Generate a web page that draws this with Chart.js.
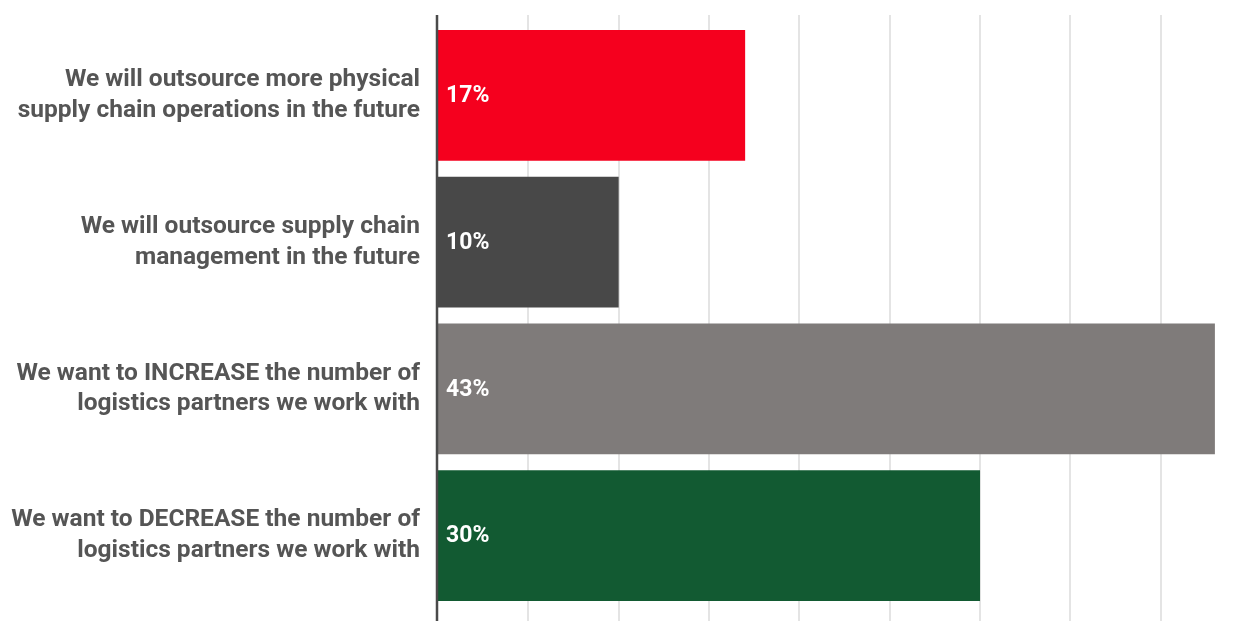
<!DOCTYPE html>
<html>
<head>
<meta charset="utf-8">
<script src="https://cdn.jsdelivr.net/npm/chart.js@4/dist/chart.umd.min.js"></script>
<style>
  html, body { margin: 0; padding: 0; background: #fff; }
  #wrap { width: 1242px; height: 621px; }
</style>
</head>
<body>
<div id="wrap"><canvas id="chart" width="1242" height="621"></canvas></div>
<script>
const categories = [
  ['We will outsource more physical', 'supply chain operations in the future'],
  ['We will outsource supply chain', 'management in the future'],
  ['We want to INCREASE the number of', 'logistics partners we work with'],
  ['We want to DECREASE the number of', 'logistics partners we work with']
];
const values = [17, 10, 43, 30];
const barColors = ['#f5001e', '#484848', '#7f7b7a', '#125a32'];
const xMax = 44.5;
const xStep = 5;

// gridlines + axis line spanning full height, drawn from the x scale
const gridPlugin = {
  id: 'fullGrid',
  beforeDatasetsDraw(chart) {
    const ctx = chart.ctx, xs = chart.scales.x;
    ctx.save();
    ctx.strokeStyle = '#e4e4e4';
    ctx.lineWidth = 2;
    xs.ticks.forEach(t => {
      if (t.value === 0 || t.value % xStep !== 0) return;
      const x = Math.round(xs.getPixelForValue(t.value));
      ctx.beginPath();
      ctx.moveTo(x, 15);
      ctx.lineTo(x, 621);
      ctx.stroke();
    });
    ctx.restore();
  },
  afterDatasetsDraw(chart) {
    const ctx = chart.ctx, xs = chart.scales.x;
    const meta = chart.getDatasetMeta(0);
    ctx.save();
    // value labels
    ctx.fillStyle = '#ffffff';
    ctx.font = 'bold 23px Roboto';
    ctx.textAlign = 'left';
    ctx.textBaseline = 'middle';
    meta.data.forEach((bar, i) => {
      ctx.fillText(values[i] + '%', xs.getPixelForValue(0) + 8, bar.y + 1);
    });
    // axis line
    const x0 = xs.getPixelForValue(0) - 1;
    ctx.strokeStyle = '#4a4a4a';
    ctx.lineWidth = 2.5;
    ctx.beginPath();
    ctx.moveTo(x0, 15);
    ctx.lineTo(x0, 621);
    ctx.stroke();
    ctx.restore();
  }
};

new Chart(document.getElementById('chart'), {
  type: 'bar',
  data: {
    labels: categories,
    datasets: [{
      data: values,
      backgroundColor: barColors,
      borderWidth: 0,
      categoryPercentage: 1,
      barPercentage: 0.892
    }]
  },
  options: {
    indexAxis: 'y',
    responsive: false,
    animation: false,
    layout: { padding: { top: 22, bottom: 12, left: 0, right: 0 } },
    plugins: { legend: { display: false }, tooltip: { enabled: false } },
    scales: {
      x: {
        min: 0,
        max: xMax,
        ticks: { display: false, stepSize: xStep },
        grid: { display: false },
        border: { display: false },
        afterFit(scale) { scale.height = 0; }
      },
      y: {
        grid: { display: false, drawTicks: false },
        border: { display: false },
        ticks: {
          color: '#555555',
          padding: 18,
          font: { family: 'Roboto', size: 24.5, weight: 'bold', lineHeight: 1.25 }
        },
        afterFit(scale) {
          scale.width = 438;
          scale.paddingTop = 0;
          scale.paddingBottom = 0;
        }
      }
    }
  },
  plugins: [gridPlugin]
});
</script>
</body>
</html>
